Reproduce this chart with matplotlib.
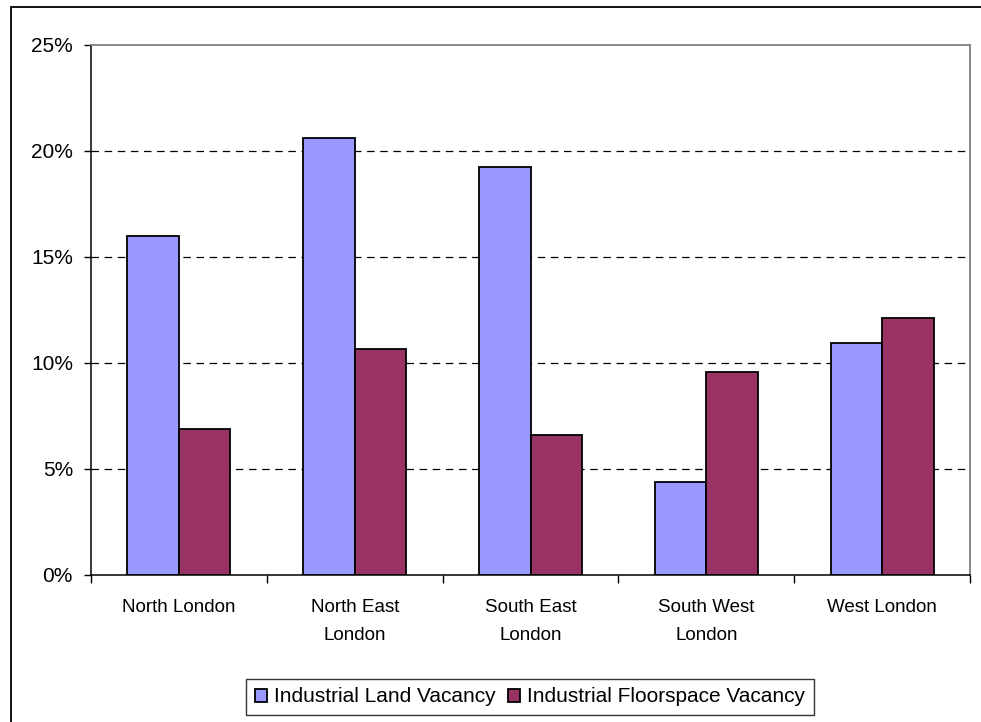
import matplotlib
matplotlib.use('Agg')
import matplotlib.pyplot as plt
from matplotlib.patches import Rectangle
from matplotlib.ticker import FuncFormatter
import numpy as np

# sub-regions and vacancy rates (%)
regions = ['North London', 'North East\nLondon', 'South East\nLondon',
           'South West\nLondon', 'West London']
land_vacancy = [16.0, 20.6, 19.25, 4.4, 10.93]
floor_vacancy = [6.87, 10.66, 6.6, 9.59, 12.11]
series_names = ['Industrial Land Vacancy', 'Industrial Floorspace Vacancy']

plt.rcParams['font.family'] = ['Liberation Sans', 'DejaVu Sans']

W, H = 981, 722
fig = plt.figure(figsize=(W / 100, H / 100), dpi=100)
ax = fig.add_axes([91 / W, 1 - 575 / H, (970 - 91) / W, (575 - 45) / H])

x = np.arange(len(regions))
bw = 0.293
b1 = ax.bar(x - bw / 2, land_vacancy, bw, color='#9999FF', edgecolor='black',
            linewidth=1.3, label=series_names[0], zorder=3)
b2 = ax.bar(x + bw / 2, floor_vacancy, bw, color='#993366', edgecolor='black',
            linewidth=1.3, label=series_names[1], zorder=3)

ax.set_xlim(-0.5, len(regions) - 0.5)
ax.set_ylim(0, 25)
ax.set_yticks(np.arange(0, 26, 5))
ax.yaxis.set_major_formatter(FuncFormatter(lambda v, p: '%d%%' % v))
# dashed gridlines, the 25% edge is the plot area border
for g in range(5, 25, 5):
    ax.axhline(g, linestyle=(0, (6, 4.5)), color='black', linewidth=0.9, zorder=1)

# category boundary ticks, labels centred under each group
ax.set_xticks(np.arange(-0.5, len(regions), 1.0))
ax.set_xticklabels([])
ax.set_xticks(x, minor=True)
ax.set_xticklabels(regions, minor=True, fontsize=13.5, linespacing=1.9)
ax.tick_params(axis='x', which='minor', length=0, pad=17)
ax.tick_params(axis='x', which='major', length=6, width=1, direction='out')
ax.tick_params(axis='y', length=5, width=1, labelsize=15, pad=8)

for s in ['top', 'right']:
    ax.spines[s].set_color('#808080')
    ax.spines[s].set_linewidth(1.3)
ax.spines['left'].set_linewidth(1.1)
ax.spines['bottom'].set_linewidth(1.1)

leg = fig.legend(handles=[b1, b2], loc='center', bbox_to_anchor=(530 / W, 1 - 697 / H),
                 ncol=2, fontsize=15, frameon=True, fancybox=False,
                 handlelength=0.58, handleheight=0.58, handletextpad=0.34,
                 columnspacing=0.62, borderpad=0.4, borderaxespad=0)
leg.get_frame().set_edgecolor('black')
leg.get_frame().set_linewidth(1)

# outer chart border (runs off the right and bottom edges)
fig.patches.append(Rectangle((11 / W, -0.05), 1.0, 1.05 - 7 / H,
                             transform=fig.transFigure, fill=False,
                             edgecolor='black', linewidth=1.3, clip_on=False))

fig.savefig('out.png', dpi=100)
